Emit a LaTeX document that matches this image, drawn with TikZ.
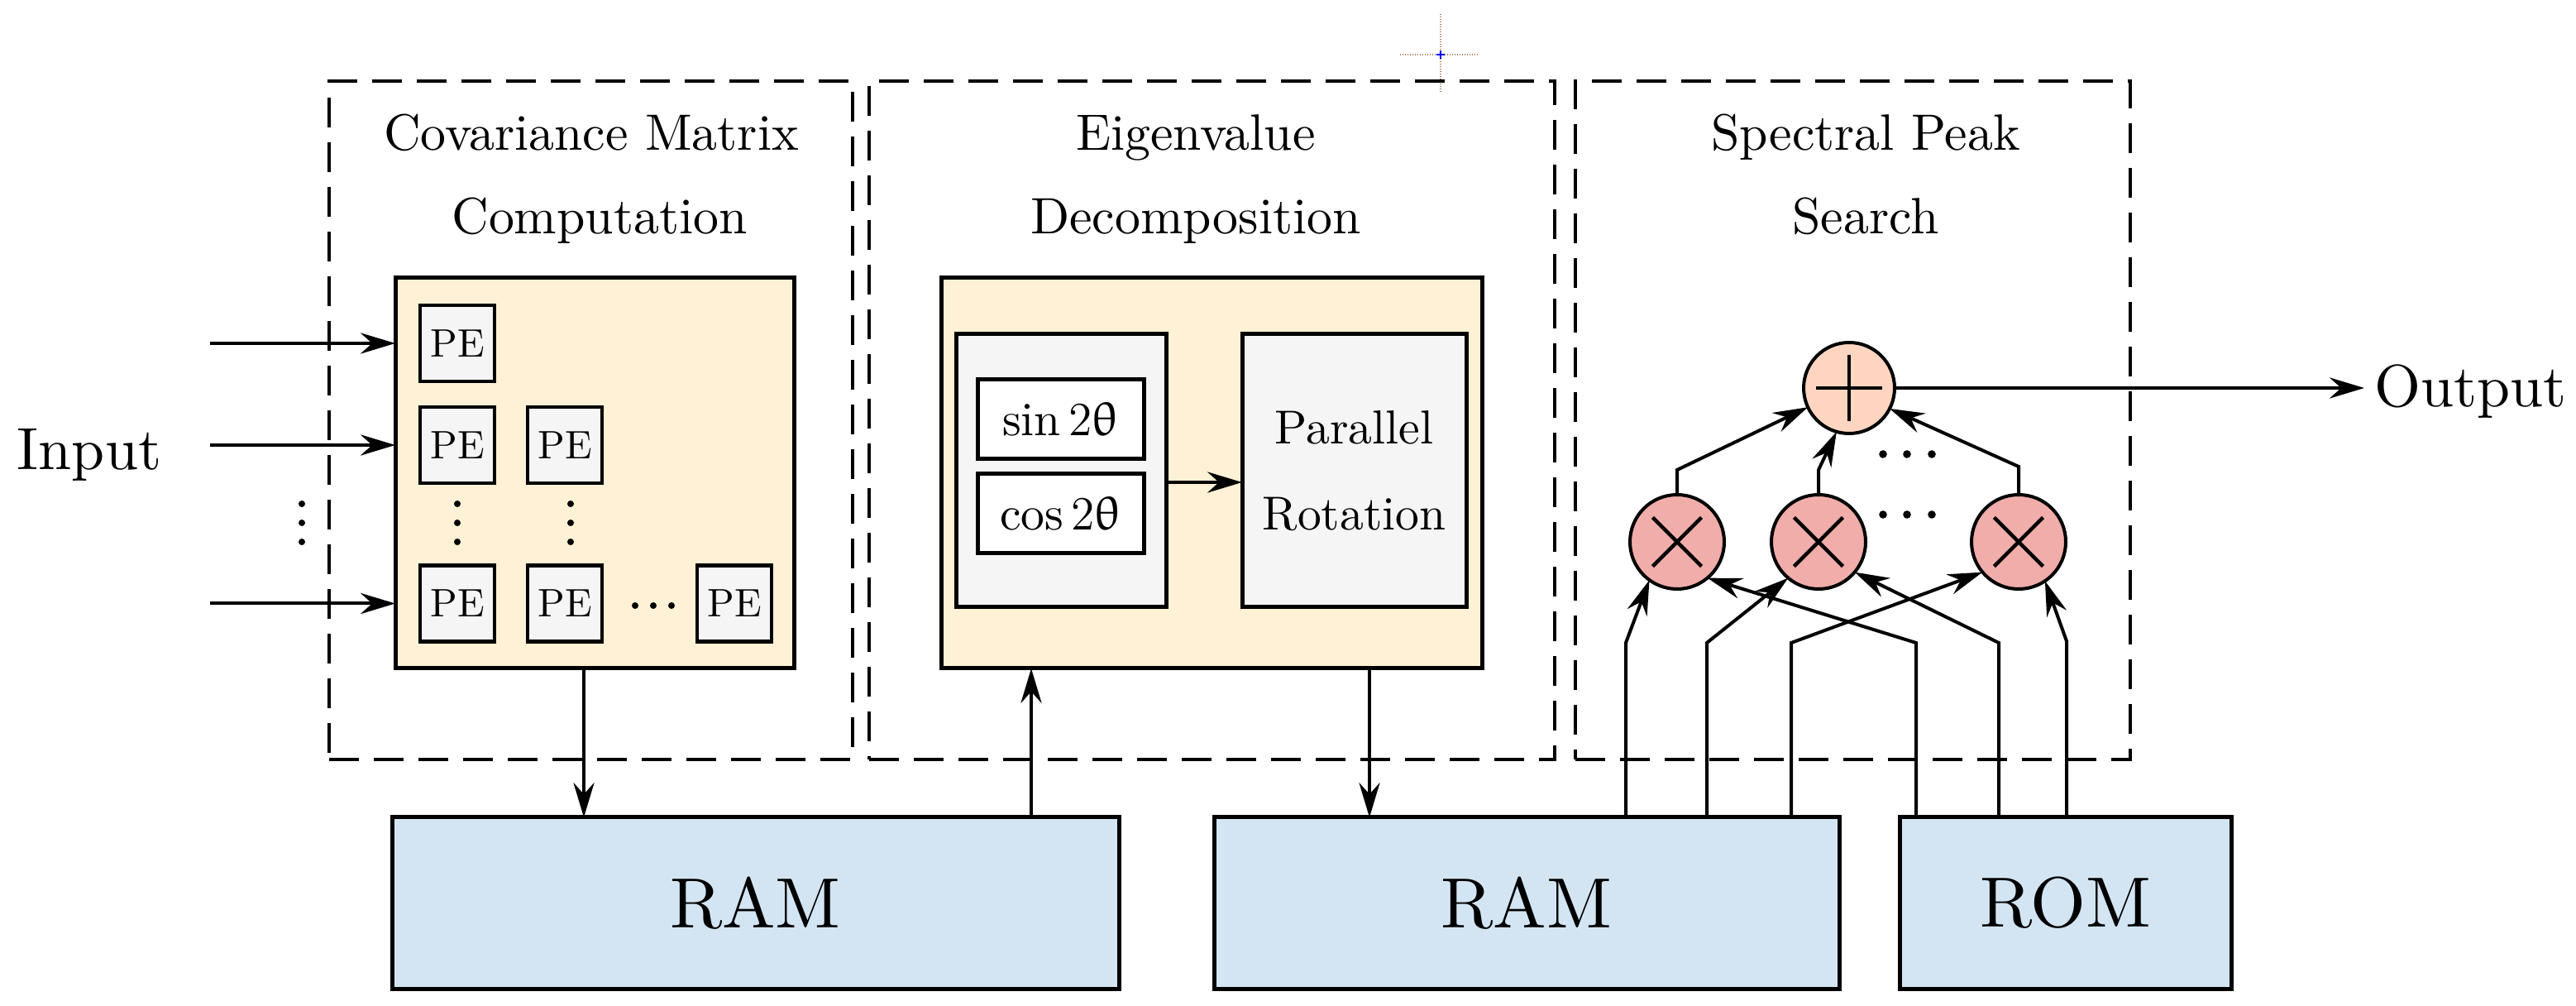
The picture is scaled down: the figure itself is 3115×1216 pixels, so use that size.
\documentclass[tikz,border=0pt]{standalone}
\usepackage{fontspec}
\setmainfont{lmroman10-regular.otf}
\usepackage{upgreek}
\usetikzlibrary{arrows.meta,calc}
\definecolor{yel}{HTML}{FFF1D5}
\definecolor{pegray}{HTML}{F5F5F5}
\definecolor{ramblue}{HTML}{D3E5F3}
\definecolor{pluscol}{HTML}{FDD5C0}
\definecolor{mulcol}{HTML}{F0ADAA}
\definecolor{crossbrown}{HTML}{B07860}
\begin{document}
\begin{tikzpicture}[x=0.25pt,y=-0.25pt,
  box/.style={draw,line width=1.25pt,inner sep=0pt,outer sep=0pt},
  dbox/.style={draw,line width=1.2pt,dash pattern=on 9pt off 4.5pt,inner sep=0pt,outer sep=0pt},
  pe/.style={box,line width=1.1pt,fill=pegray,minimum width=22.5pt,minimum height=23pt,font=\fontsize{12}{14}\selectfont},
  ttl/.style={anchor=base,inner sep=0pt,font=\fontsize{15.45}{18}\selectfont},
  bigtxt/.style={inner sep=0pt,font=\fontsize{18}{20}\selectfont},
  ramc/.style={box,fill=ramblue,minimum height=51.75pt,font=\fontsize{21.5}{24}\selectfont},
  arr/.style={line width=1pt,-{Stealth[length=10.5pt,width=6.3pt,inset=3.5pt]}},
  arrt/.style={line width=0.8pt,-{Stealth[length=10.5pt,width=6.3pt,inset=3.5pt]}},
  mulc/.style={circle,draw,line width=1pt,fill=mulcol,minimum size=28.5pt,inner sep=0pt,outer sep=0pt,
    path picture={\draw[line width=1.1pt]
      ($(path picture bounding box.center)+(-7.4pt,-7.4pt)$) -- ($(path picture bounding box.center)+(7.4pt,7.4pt)$)
      ($(path picture bounding box.center)+(-7.4pt,7.4pt)$) -- ($(path picture bounding box.center)+(7.4pt,-7.4pt)$);}},
  addc/.style={circle,draw,line width=1pt,fill=pluscol,minimum size=27.5pt,inner sep=0pt,outer sep=0pt,
    path picture={\draw[line width=1.2pt]
      ($(path picture bounding box.center)+(-10pt,0pt)$) -- ($(path picture bounding box.center)+(10pt,0pt)$)
      ($(path picture bounding box.center)+(0pt,-10pt)$) -- ($(path picture bounding box.center)+(0pt,10pt)$);}}
]
\useasboundingbox (0,0) rectangle (3115,1216);

% stray crosshair
\draw[crossbrown,line width=0.35pt,dash pattern=on 0.35pt off 0.4pt] (1742,17) -- (1742,111);
\draw[crossbrown,line width=0.35pt,dash pattern=on 0.35pt off 0.4pt] (1693,66) -- (1788,66);
\draw[blue,line width=0.6pt] (1737,66) -- (1747,66) (1742,61) -- (1742,71);

% dashed stage boxes
\node[dbox,minimum width=158.25pt,minimum height=205pt] (d1) at (714.5,508) {};
\node[dbox,minimum width=207.25pt,minimum height=205pt] (d2) at (1465.5,508) {};
\node[dbox,minimum width=167.75pt,minimum height=205pt] (d3) at (2240.5,508) {};

% titles
\node[ttl] (t1a) at (715,182) {Covariance Matrix};
\node[ttl] (t1b) at (725,283) {Computation};
\node[ttl] (t2a) at (1446,182) {Eigenvalue};
\node[ttl] (t2b) at (1446,283) {Decomposition};
\node[ttl] (t3a) at (2256,182) {Spectral Peak};
\node[ttl] (t3b) at (2256,283) {Search};

% covariance block
\node[box,fill=yel,minimum width=120.5pt,minimum height=118pt] (A) at (719,572) {};
\node[pe] (p11) at (553,415) {PE};
\node[pe] (p21) at (553,538) {PE};
\node[pe] (p22) at (683,538) {PE};
\node[pe] (p31) at (553,729.5) {PE};
\node[pe] (p32) at (683,729.5) {PE};
\node[pe] (p33) at (888,729.5) {PE};
\foreach \y in {609,632,655} {
  \fill (553,\y) circle[radius=1pt];
  \fill (690,\y) circle[radius=1pt];
  \fill (365,\y) circle[radius=1pt];
}
\foreach \x in {768,790,812} { \fill (\x,732) circle[radius=1pt]; }

% input
\node[bigtxt,anchor=base] (inp) at (108,568) {Input};
\coordinate (in1) at (254,415);
\coordinate (in2) at (254,538);
\coordinate (in3) at (254,729.5);
\draw[arr] (in1) -- (in1 -| A.west);
\draw[arr] (in2) -- (in2 -| A.west);
\draw[arr] (in3) -- (in3 -| A.west);

% eigenvalue block
\node[box,fill=yel,minimum width=163.5pt,minimum height=118pt] (B) at (1465,572) {};
\node[box,fill=pegray,minimum width=63.5pt,minimum height=82.5pt] (g1) at (1283,569) {};
\node[box,fill=white,minimum width=50.25pt,minimum height=24pt,font=\fontsize{14.4}{17}\selectfont] (sn) at (1282.5,507) {$\sin 2\uptheta$};
\node[box,fill=white,minimum width=50.25pt,minimum height=24pt,font=\fontsize{14.4}{17}\selectfont] (cs) at (1282.5,621) {$\cos 2\uptheta$};
\node[box,fill=pegray,minimum width=67.75pt,minimum height=82.5pt,align=center,font=\fontsize{14.4}{26}\selectfont] (pr) at (1637.5,569) {Parallel\\Rotation};
\draw[arr] ([yshift=-3.5pt]g1.east) -- ([yshift=-3.5pt]pr.west);

% memories
\node[ramc,minimum width=219.75pt] (ram1) at (913.5,1091.5) {RAM};
\node[ramc,minimum width=189pt] (ram2) at (1846,1091.5) {RAM};
\node[ramc,minimum width=100.25pt] (rom) at (2497.5,1091.5) {ROM};

\coordinate (xa) at (706,0);
\coordinate (xb) at (1247,0);
\coordinate (xc) at (1656,0);
\draw[arrt] (A.south -| xa) -- (ram1.north -| xa);
\draw[arrt] (ram1.north -| xb) -- (B.south -| xb);
\draw[arrt] (B.south -| xc) -- (ram2.north -| xc);

% spectral peak search
\node[addc] (plus) at (2236,469) {};
\node[mulc] (m1) at (2028,655) {};
\node[mulc] (m2) at (2199,655) {};
\node[mulc] (m3) at (2441,655) {};
\foreach \x in {2277,2306,2336} {
  \fill (\x,549) circle[radius=1.2pt];
  \fill (\x,622) circle[radius=1.2pt];
}

\coordinate (u1) at (2028,568);
\coordinate (u2) at (2199,568);
\coordinate (u3) at (2441,564);
\draw[arr] (m1.north) -- (m1.north |- u1) -- (plus.205);
\draw[arr] (m2.north) -- (m2.north |- u2) -- (plus.254);
\draw[arr] (m3.north) -- (m3.north |- u3) -- (plus.333);

\coordinate (k1) at (1966,777);
\coordinate (k2) at (2064,777);
\coordinate (k3) at (2166,777);
\coordinate (k4) at (2317,777);
\coordinate (k5) at (2417,777);
\coordinate (k6) at (2499,775);
\draw[arr] (ram2.north -| k1) -- (k1) -- (m1.234);
\draw[arr] (ram2.north -| k2) -- (k2) -- (m2.230);
\draw[arr] (ram2.north -| k3) -- (k3) -- (m3.220);
\draw[arr] (rom.north -| k4) -- (k4) -- (m1.310);
\draw[arr] (rom.north -| k5) -- (k5) -- (m2.320);
\draw[arr] (rom.north -| k6) -- (k6) -- (m3.304);

% output
\node[bigtxt,anchor=base west] (out) at (2871,492) {Output};
\draw[arr,shorten >=3pt] (plus.east) -- (plus.east -| out.west);
\end{tikzpicture}
\end{document}
